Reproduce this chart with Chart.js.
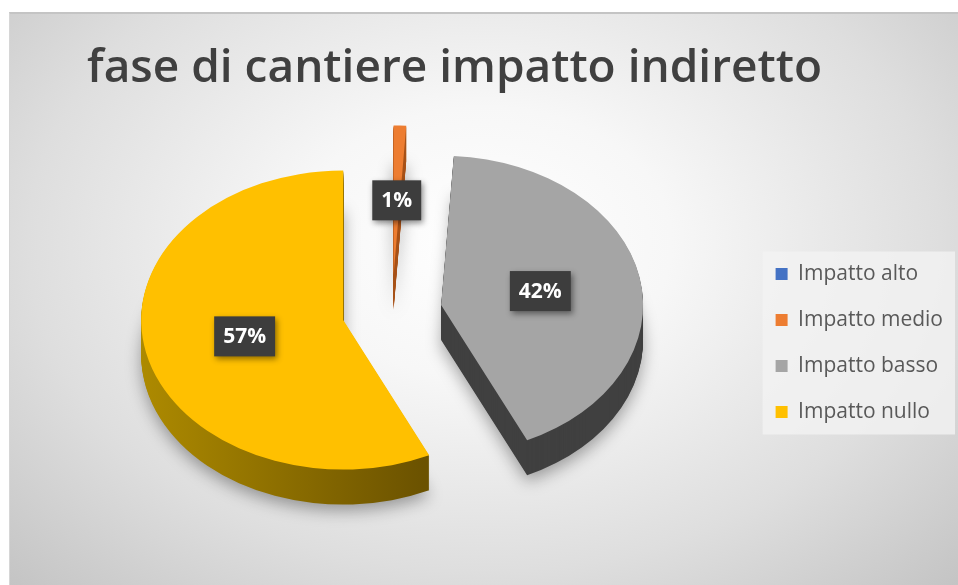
<!DOCTYPE html>
<html>
<head>
<meta charset="utf-8">
<script src="https://cdn.jsdelivr.net/npm/chart.js@4.4.1/dist/chart.umd.min.js"></script>
<style>
  html, body { margin: 0; padding: 0; background: #fff; overflow: hidden; width: 958px; height: 585px; }
  #frame {
    position: absolute; left: 9px; top: 12px; width: 949px; height: 573px; box-sizing: border-box;
    border-top: 2px solid #c4c4c4; border-left: 1px solid #d6d6d6;
    background: radial-gradient(ellipse at 50% 40%, #ffffff 0%, #f7f7f7 28%, #dedede 68%, #c4c4c4 100%);
  }
  #wrap { position: absolute; left: -44px; top: 12px; width: 1000px; height: 670px; }
</style>
</head>
<body>
<div id="frame"></div>
<div id="wrap"><canvas id="pieChart"></canvas></div>
<script>
// data
var labels = ["Impatto alto", "Impatto medio", "Impatto basso", "Impatto nullo"];
var values = [0, 1, 42, 57];
var colors = ["#4472C4", "#ED7D31", "#A5A5A5", "#FFC000"];
var titleText = "fase di cantiere impatto indiretto";

// fake 3d look
var tilt = 0.74;      // vertical squash of the pie
var depth = 35;       // thickness of the slices
var explode = 50;     // how far slices are pulled out
var centerX = 436;    // pie centre on the canvas
var centerY = 300;

function sideFill(ctx, arc, i) {
  var r = arc.outerRadius;
  if (i === 3) {
    var g = ctx.createLinearGradient(arc.x - r, 0, arc.x + r * 0.4, 0);
    g.addColorStop(0, "#ad8a00");
    g.addColorStop(1, "#6b5200");
    return g;
  }
  if (i === 2) return "#404040";
  if (i === 1) return "#a8531a";
  return "#2c4c86";
}

var legendBox = {
  id: "legendBox",
  beforeDraw: function (chart) {
    var boxes = chart.legend && chart.legend.legendHitBoxes;
    if (!boxes || !boxes.length) return;
    var l = 1e9, t = 1e9, r = -1e9, b = -1e9;
    boxes.forEach(function (h) {
      l = Math.min(l, h.left); t = Math.min(t, h.top);
      r = Math.max(r, h.left + h.width); b = Math.max(b, h.top + h.height);
    });
    var ctx = chart.ctx;
    ctx.save();
    ctx.fillStyle = "rgba(243,243,243,0.8)";
    ctx.fillRect(l - 13, t - 12, r - l + 25, b - t + 24);
    ctx.restore();
  }
};

var pie3d = {
  id: "pie3d",
  beforeDatasetsDraw: function (chart) {
    var ctx = chart.ctx;
    var arcs = chart.getDatasetMeta(0).data;
    var cx = arcs[0].x, cy = arcs[0].y;

    function place(arc, dy) {
      var mid = (arc.startAngle + arc.endAngle) / 2;
      ctx.translate(centerX, centerY + dy);
      ctx.scale(1, tilt);
      ctx.translate(-cx + Math.cos(mid) * explode, -cy + Math.sin(mid) * explode);
    }

    // sides, from the bottom up
    for (var k = depth; k >= 1; k--) {
      arcs.forEach(function (arc, i) {
        if (!values[i]) return;
        ctx.save();
        if (k === depth) {
          ctx.shadowColor = "rgba(0,0,0,0.35)";
          ctx.shadowBlur = 16;
          ctx.shadowOffsetY = 6;
        }
        place(arc, k);
        var side = Object.create(arc);
        side.options = Object.assign({}, arc.options, { backgroundColor: sideFill(ctx, arc, i), borderWidth: 0 });
        side.draw(ctx);
        ctx.restore();
      });
    }
    // top faces
    arcs.forEach(function (arc, i) {
      if (!values[i]) return;
      ctx.save();
      place(arc, 0);
      arc.draw(ctx);
      ctx.restore();
    });

    // data labels
    var total = values.reduce(function (a, b) { return a + b; }, 0);
    ctx.save();
    ctx.font = 'bold 21px "Open Sans"';
    ctx.textAlign = "center";
    ctx.textBaseline = "middle";
    arcs.forEach(function (arc, i) {
      if (!values[i]) return;
      var mid = (arc.startAngle + arc.endAngle) / 2;
      var cp = arc.getCenterPoint();
      var px = centerX + (cp.x - cx) + Math.cos(mid) * explode;
      var py = centerY + tilt * ((cp.y - cy) + Math.sin(mid) * explode);
      var txt = Math.round(values[i] / total * 100) + "%";
      var w = ctx.measureText(txt).width + 18, h = 40;
      ctx.save();
      ctx.shadowColor = "rgba(0,0,0,0.45)";
      ctx.shadowBlur = 6;
      ctx.shadowOffsetX = 2;
      ctx.shadowOffsetY = 3;
      ctx.fillStyle = "#3d3d3d";
      ctx.fillRect(px - w / 2, py - h / 2, w, h);
      ctx.restore();
      ctx.fillStyle = "#ffffff";
      ctx.fillText(txt, px, py + 1);
    });
    ctx.restore();
    return false;
  }
};

Chart.defaults.font.family = '"Open Sans", sans-serif';

new Chart("pieChart", {
  type: "pie",
  data: {
    labels: labels,
    datasets: [
      {
        data: values,
        backgroundColor: colors,
        borderWidth: 0,
      },
    ],
  },
  plugins: [legendBox, pie3d],
  options: {
    responsive: true,
    maintainAspectRatio: false,
    animation: false,
    radius: 202,
    layout: { padding: { top: 0, bottom: 8, right: 3 } },
    plugins: {
      title: {
        display: true,
        text: titleText,
        color: "#404040",
        font: { size: 46, weight: "600" },
        padding: { top: 29, bottom: 17 },
      },
      legend: {
        position: "right",
        labels: {
          color: "#595959",
          font: { size: 21 },
          boxWidth: 12,
          boxHeight: 12,
          padding: 25,
        },
      },
      tooltip: { enabled: false },
    },
  },
});
</script>
</body>
</html>
